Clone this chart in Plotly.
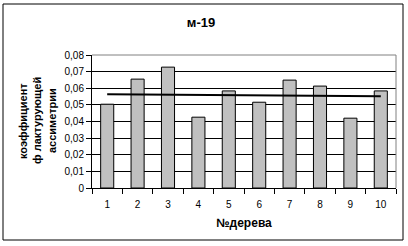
import plotly.graph_objects as go

categories = ["1", "2", "3", "4", "5", "6", "7", "8", "9", "10"]
values = [0.0504, 0.0655, 0.0727, 0.0426, 0.0584, 0.0516, 0.0649, 0.0613, 0.0420, 0.0584]
trend_x = ["1", "10"]
trend_y = [0.0564, 0.0552]
y_ticks = [0, 0.01, 0.02, 0.03, 0.04, 0.05, 0.06, 0.07, 0.08]
y_ticktext = ["0", "0,01", "0,02", "0,03", "0,04", "0,05", "0,06", "0,07", "0,08"]
title_text = "м-19"
x_title = "№дерева"
y_title_lines = ["коэффициент", "ф лактурующей", "ассиметрии"]

FONT = "Arial, Liberation Sans, sans-serif"

fig = go.Figure()
fig.add_trace(go.Bar(
    x=categories, y=values,
    marker=dict(color="#c0c0c0", line=dict(color="black", width=1)),
    width=0.43,
))
fig.add_trace(go.Scatter(
    x=trend_x, y=trend_y, mode="lines",
    line=dict(color="black", width=2),
))

line_x = [23, 37, 52]
annotations = [
    dict(text="<b>" + t + "</b>", xref="paper", yref="paper",
         x=(px - 92) / 304, y=(188 - 121) / 133, xanchor="center",
         yanchor="middle", textangle=-90, showarrow=False,
         font=dict(family=FONT, size=11, color="black"))
    for t, px in zip(y_title_lines, line_x)
]

fig.update_layout(
    width=408, height=246,
    margin=dict(l=92, r=12, t=55, b=58),
    paper_bgcolor="white", plot_bgcolor="white",
    showlegend=False,
    font=dict(family=FONT, size=10, color="black"),
    title=dict(text="<b>" + title_text + "</b>", x=201 / 408, xanchor="center",
               y=1 - 22 / 246, yanchor="middle",
               font=dict(family=FONT, size=13, color="black")),
    xaxis=dict(
        type="category", tickson="boundaries", ticks="outside", ticklen=5,
        tickcolor="black", showline=True, linecolor="black", linewidth=1,
        showgrid=False, range=[-0.5, 9.5], ticklabelstandoff=7,
        title=dict(text="<b>" + x_title + "</b>", standoff=9,
                   font=dict(family=FONT, size=12, color="black")),
    ),
    yaxis=dict(
        range=[0, 0.08], tickvals=y_ticks, ticktext=y_ticktext,
        ticks="outside", ticklen=5, tickcolor="black",
        showline=True, linecolor="black", linewidth=1,
        showgrid=True, gridcolor="black", gridwidth=1,
        zeroline=False,
    ),
    shapes=[
        dict(type="line", xref="paper", yref="paper", x0=0, x1=1, y0=1, y1=1,
             line=dict(color="#808080", width=1)),
        dict(type="line", xref="paper", yref="paper", x0=1, x1=1, y0=0, y1=1,
             line=dict(color="#808080", width=1)),
        dict(type="rect", xref="paper", yref="paper",
             x0=(3 - 92) / 304, x1=(403 - 92) / 304,
             y0=(188 - 240) / 133, y1=(188 - 4) / 133,
             line=dict(color="black", width=1), fillcolor="rgba(0,0,0,0)"),
    ],
    annotations=annotations,
)

fig.write_html("out.html")
